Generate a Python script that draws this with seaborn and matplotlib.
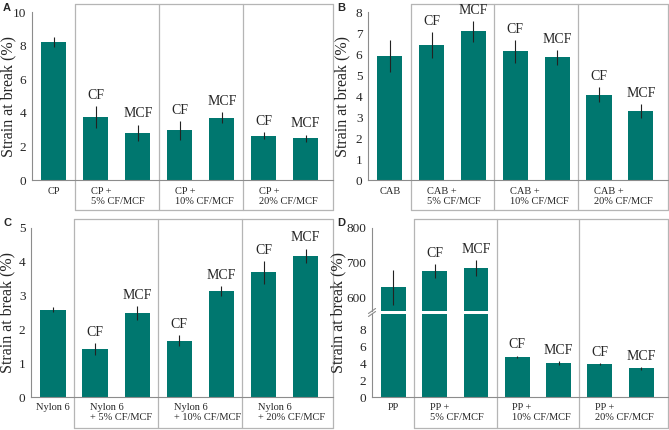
import matplotlib
matplotlib.use("Agg")
import matplotlib.pyplot as plt
import matplotlib.transforms as mtrans
import pandas as pd
import seaborn as sns

sns.set_theme(style="white")
plt.rcParams["font.family"] = ["Liberation Serif", "DejaVu Serif"]

# bar order: neat polymer, then CF / MCF at 5, 10, 20 %
bar_ids = ["neat", "CF5", "MCF5", "CF10", "MCF10", "CF20", "MCF20"]
fiber_tags = ["", "CF", "MCF", "CF", "MCF", "CF", "MCF"]

cp_mean = [8.2, 3.75, 2.8, 2.97, 3.7, 2.63, 2.48]
cp_err = [0.3, 0.66, 0.5, 0.56, 0.33, 0.2, 0.22]
cp_labels = ["CP", "CP +\n5% CF/MCF", "CP +\n10% CF/MCF", "CP +\n20% CF/MCF"]

cab_mean = [5.9, 6.43, 7.08, 6.12, 5.85, 4.07, 3.28]
cab_err = [0.78, 0.63, 0.5, 0.56, 0.35, 0.37, 0.32]
cab_labels = ["CAB", "CAB +\n5% CF/MCF", "CAB +\n10% CF/MCF", "CAB +\n20% CF/MCF"]

ny_mean = [2.58, 1.41, 2.49, 1.66, 3.13, 3.69, 4.17]
ny_err = [0.07, 0.18, 0.21, 0.16, 0.15, 0.34, 0.22]
ny_labels = ["Nylon 6", "Nylon 6\n+ 5% CF/MCF", "Nylon 6\n+ 10% CF/MCF", "Nylon 6\n+ 20% CF/MCF"]

pp_mean = [629, 676, 684, 4.75, 4.02, 3.87, 3.37]
pp_err = [50, 20, 23, 0.15, 0.2, 0.15, 0.15]
pp_labels = ["PP", "PP +\n5% CF/MCF", "PP +\n10% CF/MCF", "PP +\n20% CF/MCF"]

teal = "#00776f"
box_col = "#b5b5b5"
W, H = 669, 430
XMIN, XMAX = -0.52, 6.65


def fx(px):
    return px / W


def fy(py):
    return 1 - py / H


def draw_bars(ax, means, errs, tags, ylim, yticks):
    df = pd.DataFrame({"bar": bar_ids, "strain": means})
    sns.barplot(data=df, x="bar", y="strain", color=teal, width=0.6,
                saturation=1, linewidth=0, ax=ax)
    ax.errorbar(range(len(means)), means, yerr=errs, fmt="none",
                ecolor="#222222", elinewidth=0.8, capsize=0)
    ax.set_xlim(XMIN, XMAX)
    ax.set_ylim(*ylim)
    ax.set_yticks(yticks)
    for i, t in enumerate(tags):
        if t and ylim[0] <= means[i] <= ylim[1]:
            ax.annotate(t, (i, means[i] + errs[i]), xytext=(0, 3),
                        textcoords="offset points", ha="center",
                        va="bottom", fontsize=10)
    ax.set_xlabel("")
    ax.set_ylabel("")
    ax.set_xticks([])
    for s in ["top", "right"]:
        ax.spines[s].set_visible(False)
    for s in ["left", "bottom"]:
        ax.spines[s].set_color("#8c8c8c")
        ax.spines[s].set_linewidth(0.8)
    ax.tick_params(axis="y", direction="out", length=3, width=0.7,
                   color="#8c8c8c", labelsize=9.5, pad=1)


def draw_groups(fig, ax, labels, top_px, bot_px, row_px):
    tr = mtrans.blended_transform_factory(ax.transData, fig.transFigure)
    for xb in [0.5, 2.5, 4.5, XMAX]:
        ax.plot([xb, xb], [fy(top_px), fy(bot_px)], color=box_col, lw=0.9,
                transform=tr, clip_on=False)
    for yy in [top_px, bot_px]:
        ax.plot([0.5, XMAX], [fy(yy), fy(yy)], color=box_col, lw=0.9,
                transform=tr, clip_on=False)
    ax.text(0, fy(row_px), labels[0], transform=tr, ha="center", va="top",
            fontsize=7.5)
    for k, lab in enumerate(labels[1:]):
        ax.text(1 + 2 * k - 0.12, fy(row_px), lab, transform=tr, ha="left",
                va="top", fontsize=7.5, linespacing=1.15)


fig = plt.figure(figsize=(W / 100, H / 100), dpi=100)

# panel positions in pixels: left, right, top, bottom
axA = fig.add_axes([fx(32), fy(180), fx(333 - 32), (180 - 12) / H])
axB = fig.add_axes([fx(368), fy(180), fx(668 - 368), (180 - 12) / H])
axC = fig.add_axes([fx(31), fy(397), fx(333 - 31), (397 - 228) / H])
axD1 = fig.add_axes([fx(372), fy(311), fx(668 - 372), (311 - 228) / H])
axD2 = fig.add_axes([fx(372), fy(397), fx(668 - 372), (397 - 314) / H])

draw_bars(axA, cp_mean, cp_err, fiber_tags, (0, 10), [0, 2, 4, 6, 8, 10])
draw_bars(axB, cab_mean, cab_err, fiber_tags, (0, 8), range(0, 9))
draw_bars(axC, ny_mean, ny_err, fiber_tags, (0, 5), range(0, 6))
draw_bars(axD1, pp_mean, pp_err, fiber_tags, (561, 800), [600, 700, 800])
draw_bars(axD2, pp_mean, pp_err, fiber_tags, (0, 9.8), [0, 2, 4, 6, 8])
axD1.spines["bottom"].set_visible(False)
axD1.tick_params(axis="x", length=0)

draw_groups(fig, axA, cp_labels, 4, 210, 187)
draw_groups(fig, axB, cab_labels, 4, 210, 187)
draw_groups(fig, axC, ny_labels, 219, 428, 403)
draw_groups(fig, axD2, pp_labels, 219, 428, 403)

# break marks on the split axis
for ax_, yy in [(axD1, 0), (axD2, 1)]:
    ax_.plot([-0.012, 0.012], [yy - 0.03, yy + 0.03], color="#8c8c8c",
             lw=0.8, transform=ax_.transAxes, clip_on=False)

for ax_, xc, yc in [(axA, -0.053, 0.5), (axB, -0.06, 0.5),
                    (axC, -0.053, 0.5), (axD2, -0.087, 1.02)]:
    ax_.set_ylabel("Strain at break (%)", fontsize=11.5)
    ax_.yaxis.set_label_coords(xc, yc)

for letter, x, y in [("A", 3, 8), ("B", 337, 8), ("C", 3, 223), ("D", 337, 223)]:
    fig.text(fx(x), fy(y), letter, fontsize=8, fontweight="bold",
             family="Liberation Sans", ha="left", va="center")

fig.savefig("out.png", dpi=100)
